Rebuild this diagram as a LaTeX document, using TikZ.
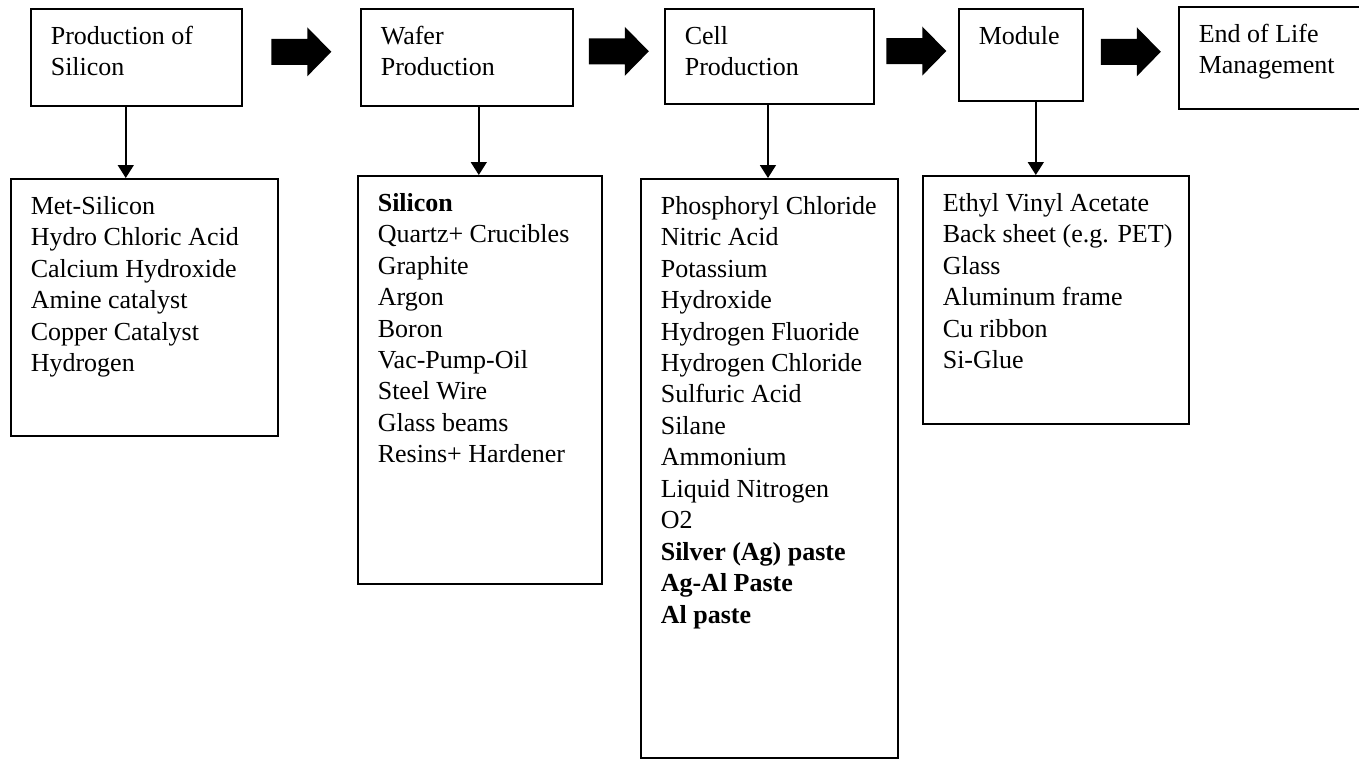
\documentclass[tikz,border=0pt]{standalone}
\usepackage{fontspec}
\setmainfont{Liberation Serif}
\usepackage{tikz}
\usetikzlibrary{arrows.meta,calc}

\tikzset{
  stage/.style={draw, line width=1.2pt, anchor=north west, inner xsep=15pt, inner ysep=10pt,
    font=\fontsize{19.5}{23.6}\selectfont},
  flow/.style={line width=1.2pt, -{Triangle[length=9.75pt,width=12pt]}},
  blockarrow/.style={fill=black}
}
\newcommand{\boxtext}[3]{\parbox[t][#2][t]{#1}{\begin{tabular}[t]{@{}l@{}}#3\end{tabular}}}

\begin{document}
\begin{tikzpicture}[x=0.75pt,y=0.75pt,yscale=-1,xscale=1]
\useasboundingbox (0,0) rectangle (1359,760);
\clip (0,0) rectangle (1359,760);

% Stage boxes
\node[stage] (silicon) at (30,8) {\boxtext{128.25pt}{52.75pt}{Production of\\Silicon}};
\node[stage] (wafer) at (360,8) {\boxtext{129pt}{52.75pt}{Wafer\\Production}};
\node[stage] (cell) at (664,8) {\boxtext{126.75pt}{51.25pt}{Cell\\Production}};
\node[stage] (module) at (958,8) {\boxtext{63pt}{49pt}{Module}};
\node[stage] (eol) at (1178,6) {\boxtext{135pt}{56.5pt}{End of Life\\Management}};

% Material boxes
\node[stage] (siliconin) at (10,178) {\boxtext{170.25pt}{172.75pt}{Met-Silicon\\Hydro Chloric Acid\\Calcium Hydroxide\\Amine catalyst\\Copper Catalyst\\Hydrogen}};
\node[stage] (waferin) at (357,175) {\boxtext{153pt}{286pt}{\textbf{Silicon}\\Quartz+ Crucibles\\Graphite\\Argon\\Boron\\Vac-Pump-Oil\\Steel Wire\\Glass beams\\Resins+ Hardener}};
\node[stage] (cellin) at (640,178) {\boxtext{162.75pt}{414.25pt}{Phosphoryl Chloride\\Nitric Acid\\Potassium\\Hydroxide\\Hydrogen Fluoride\\Hydrogen Chloride\\Sulfuric Acid\\Silane\\Ammonium\\Liquid Nitrogen\\O2\\\textbf{Silver (Ag) paste}\\\textbf{Ag-Al Paste}\\\textbf{Al paste}}};
\node[stage] (modulein) at (922,175) {\boxtext{169.5pt}{166pt}{Ethyl Vinyl Acetate\\Back sheet (e.g. PET)\\Glass\\Aluminum frame\\Cu ribbon\\Si-Glue}};

% Block arrows between stages
\fill[blockarrow] ($(silicon.east)!0.5!(wafer.west)$) ++(-30,-18.5) -- ++(36,0) -- ++(0,-11.5) -- ++(24,24.5) -- ++(-24,24.5) -- ++(0,-11.5) -- ++(-36,0) -- cycle;
\fill[blockarrow] ($(wafer.east)!0.5!(cell.west)$) ++(-30,-18.5) -- ++(36,0) -- ++(0,-11.5) -- ++(24,24.5) -- ++(-24,24.5) -- ++(0,-11.5) -- ++(-36,0) -- cycle;
\fill[blockarrow] ($(cell.east)!0.5!(module.west)$) ++(-30,-17.5) -- ++(36,0) -- ++(0,-11.5) -- ++(24,24.5) -- ++(-24,24.5) -- ++(0,-11.5) -- ++(-36,0) -- cycle;
\fill[blockarrow] ($(module.east)!0.5!(eol.west)$) ++(-30,-17.5) -- ++(36,0) -- ++(0,-11.5) -- ++(24,24.5) -- ++(-24,24.5) -- ++(0,-11.5) -- ++(-36,0) -- cycle;

% Down arrows to materials
\draw[flow] ([xshift=-7.9pt]silicon.south) -- ([xshift=-7.9pt]silicon.south |- siliconin.north);
\draw[flow] ([xshift=9pt]wafer.south) -- ([xshift=9pt]wafer.south |- waferin.north);
\draw[flow] ([xshift=-1pt]cell.south) -- ([xshift=-1pt]cell.south |- cellin.north);
\draw[flow] ([xshift=11.25pt]module.south) -- ([xshift=11.25pt]module.south |- modulein.north);

\end{tikzpicture}
\end{document}
